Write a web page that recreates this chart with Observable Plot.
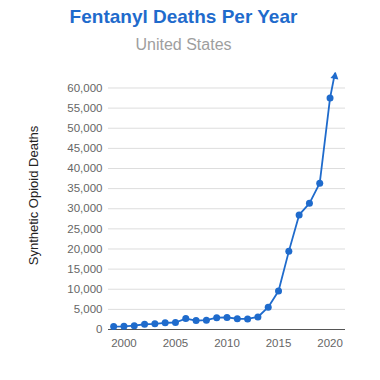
<!DOCTYPE html>
<html><head><meta charset="utf-8">
<script src="https://cdn.jsdelivr.net/npm/d3@7"></script>
<script src="https://cdn.jsdelivr.net/npm/@observablehq/plot@0.6"></script>
<style>
body{margin:0;background:#fff;font-family:Arial,"Liberation Sans",sans-serif;}
#wrap{width:380px;}
.title{width:367px;height:30px;line-height:33px;text-align:center;font-weight:bold;font-size:19px;color:#1f6bcc;}
.subtitle{width:367px;height:30px;line-height:30px;text-align:center;font-size:16px;color:#9e9e9e;}
svg{display:block;}
</style></head>
<body><div id="wrap"><div class="title">Fentanyl Deaths Per Year</div><div class="subtitle">United States</div><div id="chart"></div></div>
<script>
const years = [1999,2000,2001,2002,2003,2004,2005,2006,2007,2008,2009,2010,2011,2012,2013,2014,2015,2016,2017,2018,2019,2020];
const deaths = [730,780,960,1300,1400,1660,1740,2710,2210,2310,2950,3010,2670,2630,3110,5540,9580,19410,28470,31340,36360,57500];
const nextYear = 2021;
const nextDeaths = 70600;
const yTicks = [0,5000,10000,15000,20000,25000,30000,35000,40000,45000,50000,55000,60000];
const xTicks = [2000,2005,2010,2015,2020];
const yMax = 63600;
const xDomain = [1998.5, 2021.5];
const blue = "#1f6bcc";

const data = years.map((year, i) => ({year, deaths: deaths[i]}));
const last = data[data.length - 1];
const t = (yMax - last.deaths) / (nextDeaths - last.deaths);
const edge = {year: last.year + t * (nextYear - last.year), deaths: yMax};
const lineData = [...data, edge];

function build(angle) {
  return Plot.plot({
    width: 380, height: 320,
    marginTop: 13, marginBottom: 51, marginLeft: 108, marginRight: 35,
    style: {fontFamily: 'Arial, "Liberation Sans", sans-serif', fontSize: "11px", color: "#666", background: "#fff"},
    x: {domain: xDomain},
    y: {domain: [0, yMax]},
    marks: [
      Plot.gridY(yTicks, {stroke: "#dddddd", strokeOpacity: 1}),
      Plot.ruleY([0], {stroke: "#555"}),
      Plot.axisY(yTicks, {tickSize: 0, tickPadding: 6, label: null, fontSize: 11.5}),
      Plot.axisX(xTicks, {tickSize: 0, tickPadding: 9, label: null, tickFormat: "d", fontSize: 11.5}),
      Plot.line(lineData, {x: "year", y: "deaths", stroke: blue, strokeWidth: 1.8}),
      Plot.dot(data, {x: "year", y: "deaths", r: 3.5, fill: blue}),
      Plot.dot([edge], {x: "year", y: "deaths", symbol: "triangle", r: 3, fill: blue, rotate: angle, dy: 3}),
      Plot.text(["Synthetic Opioid Deaths"], {text: d => d, frameAnchor: "left", textAnchor: "middle", rotate: -90, dx: -75, dy: -6, fontSize: 13, fill: "#222"})
    ]
  });
}
let chart = build(0);
const sx = chart.scale("x"), sy = chart.scale("y");
const pdx = sx.apply(edge.year) - sx.apply(last.year);
const pdy = sy.apply(edge.deaths) - sy.apply(last.deaths);
const angle = Math.atan2(pdx, -pdy) * 180 / Math.PI;
chart = build(angle);
document.getElementById("chart").appendChild(chart);
</script>
</body></html>
